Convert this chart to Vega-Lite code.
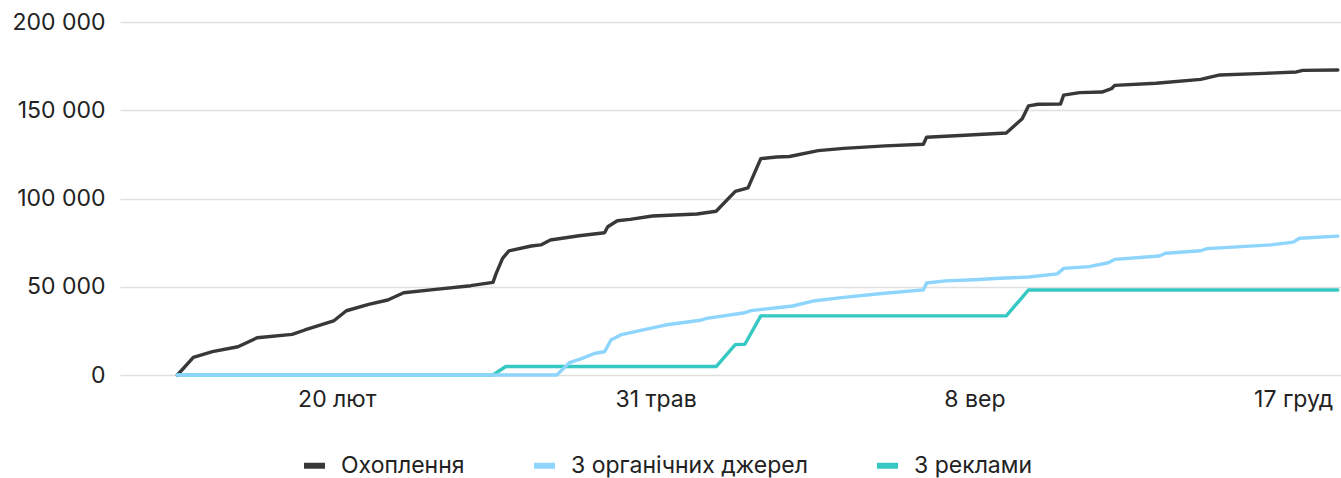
{
  "$schema": "https://vega.github.io/schema/vega-lite/v6.json",
  "width": 1221,
  "height": 353,
  "autosize": {"type": "none"},
  "padding": {"left": 120, "top": 22, "right": 0, "bottom": 103},
  "background": "white",
  "config": {
    "view": {"stroke": null},
    "font": "Inter",
    "axis": {"labelFont": "Inter", "labelFontSize": 23, "labelColor": "#222222", "domain": false, "ticks": false, "title": null}
  },
  "data": {
    "values": [
      {"d": "2023-01-01", "s": "Охоплення", "v": 0},
      {"d": "2023-01-06", "s": "Охоплення", "v": 10000},
      {"d": "2023-01-12", "s": "Охоплення", "v": 13200},
      {"d": "2023-01-20", "s": "Охоплення", "v": 16000},
      {"d": "2023-01-26", "s": "Охоплення", "v": 21100},
      {"d": "2023-02-06", "s": "Охоплення", "v": 23000},
      {"d": "2023-02-10", "s": "Охоплення", "v": 25500},
      {"d": "2023-02-19", "s": "Охоплення", "v": 30600},
      {"d": "2023-02-23", "s": "Охоплення", "v": 36400},
      {"d": "2023-03-02", "s": "Охоплення", "v": 40000},
      {"d": "2023-03-08", "s": "Охоплення", "v": 42500},
      {"d": "2023-03-13", "s": "Охоплення", "v": 46600},
      {"d": "2023-03-23", "s": "Охоплення", "v": 48500},
      {"d": "2023-04-03", "s": "Охоплення", "v": 50600},
      {"d": "2023-04-10", "s": "Охоплення", "v": 52500},
      {"d": "2023-04-11", "s": "Охоплення", "v": 57600},
      {"d": "2023-04-13", "s": "Охоплення", "v": 66100},
      {"d": "2023-04-15", "s": "Охоплення", "v": 70300},
      {"d": "2023-04-22", "s": "Охоплення", "v": 73100},
      {"d": "2023-04-25", "s": "Охоплення", "v": 73700},
      {"d": "2023-04-28", "s": "Охоплення", "v": 76500},
      {"d": "2023-05-07", "s": "Охоплення", "v": 78900},
      {"d": "2023-05-15", "s": "Охоплення", "v": 80600},
      {"d": "2023-05-16", "s": "Охоплення", "v": 84000},
      {"d": "2023-05-19", "s": "Охоплення", "v": 87400},
      {"d": "2023-05-23", "s": "Охоплення", "v": 88200},
      {"d": "2023-05-30", "s": "Охоплення", "v": 90100},
      {"d": "2023-06-13", "s": "Охоплення", "v": 91200},
      {"d": "2023-06-19", "s": "Охоплення", "v": 92800},
      {"d": "2023-06-25", "s": "Охоплення", "v": 104000},
      {"d": "2023-06-29", "s": "Охоплення", "v": 106000},
      {"d": "2023-07-03", "s": "Охоплення", "v": 122600},
      {"d": "2023-07-08", "s": "Охоплення", "v": 123500},
      {"d": "2023-07-12", "s": "Охоплення", "v": 123800},
      {"d": "2023-07-21", "s": "Охоплення", "v": 127100},
      {"d": "2023-07-29", "s": "Охоплення", "v": 128400},
      {"d": "2023-08-11", "s": "Охоплення", "v": 129800},
      {"d": "2023-08-23", "s": "Охоплення", "v": 130700},
      {"d": "2023-08-24", "s": "Охоплення", "v": 134700},
      {"d": "2023-09-05", "s": "Охоплення", "v": 135800},
      {"d": "2023-09-18", "s": "Охоплення", "v": 137100},
      {"d": "2023-09-23", "s": "Охоплення", "v": 145200},
      {"d": "2023-09-25", "s": "Охоплення", "v": 152500},
      {"d": "2023-09-28", "s": "Охоплення", "v": 153400},
      {"d": "2023-10-05", "s": "Охоплення", "v": 153500},
      {"d": "2023-10-06", "s": "Охоплення", "v": 158600},
      {"d": "2023-10-11", "s": "Охоплення", "v": 160000},
      {"d": "2023-10-18", "s": "Охоплення", "v": 160300},
      {"d": "2023-10-21", "s": "Охоплення", "v": 162200},
      {"d": "2023-10-22", "s": "Охоплення", "v": 164100},
      {"d": "2023-11-04", "s": "Охоплення", "v": 165300},
      {"d": "2023-11-18", "s": "Охоплення", "v": 167500},
      {"d": "2023-11-24", "s": "Охоплення", "v": 170000},
      {"d": "2023-12-08", "s": "Охоплення", "v": 170900},
      {"d": "2023-12-18", "s": "Охоплення", "v": 171700},
      {"d": "2023-12-20", "s": "Охоплення", "v": 172600},
      {"d": "2023-12-31", "s": "Охоплення", "v": 172800},

      {"d": "2023-01-01", "s": "З реклами", "v": 0},
      {"d": "2023-04-10", "s": "З реклами", "v": 0},
      {"d": "2023-04-14", "s": "З реклами", "v": 4800},
      {"d": "2023-06-19", "s": "З реклами", "v": 4800},
      {"d": "2023-06-25", "s": "З реклами", "v": 17200},
      {"d": "2023-06-28", "s": "З реклами", "v": 17400},
      {"d": "2023-07-03", "s": "З реклами", "v": 33500},
      {"d": "2023-09-18", "s": "З реклами", "v": 33500},
      {"d": "2023-09-25", "s": "З реклами", "v": 48200},
      {"d": "2023-12-31", "s": "З реклами", "v": 48200},

      {"d": "2023-01-01", "s": "З органічних джерел", "v": 0},
      {"d": "2023-04-30", "s": "З органічних джерел", "v": 0},
      {"d": "2023-05-04", "s": "З органічних джерел", "v": 7000},
      {"d": "2023-05-08", "s": "З органічних джерел", "v": 9400},
      {"d": "2023-05-12", "s": "З органічних джерел", "v": 12300},
      {"d": "2023-05-15", "s": "З органічних джерел", "v": 13200},
      {"d": "2023-05-17", "s": "З органічних джерел", "v": 19800},
      {"d": "2023-05-20", "s": "З органічних джерел", "v": 22700},
      {"d": "2023-05-26", "s": "З органічних джерел", "v": 25100},
      {"d": "2023-06-03", "s": "З органічних джерел", "v": 28300},
      {"d": "2023-06-14", "s": "З органічних джерел", "v": 31000},
      {"d": "2023-06-16", "s": "З органічних джерел", "v": 32100},
      {"d": "2023-06-28", "s": "З органічних джерел", "v": 35300},
      {"d": "2023-06-30", "s": "З органічних джерел", "v": 36500},
      {"d": "2023-07-08", "s": "З органічних джерел", "v": 38100},
      {"d": "2023-07-13", "s": "З органічних джерел", "v": 39100},
      {"d": "2023-07-20", "s": "З органічних джерел", "v": 42100},
      {"d": "2023-07-29", "s": "З органічних джерел", "v": 44000},
      {"d": "2023-08-10", "s": "З органічних джерел", "v": 46200},
      {"d": "2023-08-23", "s": "З органічних джерел", "v": 48200},
      {"d": "2023-08-24", "s": "З органічних джерел", "v": 52100},
      {"d": "2023-08-30", "s": "З органічних джерел", "v": 53300},
      {"d": "2023-09-08", "s": "З органічних джерел", "v": 54000},
      {"d": "2023-09-16", "s": "З органічних джерел", "v": 54800},
      {"d": "2023-09-25", "s": "З органічних джерел", "v": 55500},
      {"d": "2023-10-04", "s": "З органічних джерел", "v": 57300},
      {"d": "2023-10-06", "s": "З органічних джерел", "v": 60400},
      {"d": "2023-10-14", "s": "З органічних джерел", "v": 61400},
      {"d": "2023-10-20", "s": "З органічних джерел", "v": 63600},
      {"d": "2023-10-22", "s": "З органічних джерел", "v": 65500},
      {"d": "2023-11-05", "s": "З органічних джерел", "v": 67400},
      {"d": "2023-11-07", "s": "З органічних джерел", "v": 69000},
      {"d": "2023-11-18", "s": "З органічних джерел", "v": 70400},
      {"d": "2023-11-20", "s": "З органічних джерел", "v": 71600},
      {"d": "2023-12-10", "s": "З органічних джерел", "v": 73700},
      {"d": "2023-12-17", "s": "З органічних джерел", "v": 75300},
      {"d": "2023-12-19", "s": "З органічних джерел", "v": 77500},
      {"d": "2023-12-31", "s": "З органічних джерел", "v": 78700}
    ]
  },
  "mark": {"type": "line", "strokeWidth": 3.4, "strokeJoin": "round", "strokeCap": "round"},
  "encoding": {
    "x": {
      "field": "d",
      "type": "temporal",
      "scale": {"domain": [{"year": 2022, "month": 12, "date": 14}, {"year": 2024, "month": 1, "date": 1}]},
      "axis": {
        "grid": false,
        "labelPadding": 13,
        "values": [
          {"year": 2023, "month": 2, "date": 20},
          {"year": 2023, "month": 5, "date": 31},
          {"year": 2023, "month": 9, "date": 8},
          {"year": 2023, "month": 12, "date": 17}
        ],
        "labelExpr": "date(datum.value) + ' ' + ['січ','лют','бер','квіт','трав','черв','лип','серп','вер','жовт','лист','груд'][month(datum.value)]"
      }
    },
    "y": {
      "field": "v",
      "type": "quantitative",
      "scale": {"domain": [0, 200000], "nice": false},
      "axis": {
        "values": [0, 50000, 100000, 150000, 200000],
        "grid": true,
        "gridColor": "#e0e0e0",
        "gridWidth": 1.5,
        "labelPadding": 15,
        "labelExpr": "replace(format(datum.value, ','), ',', ' ')"
      }
    },
    "color": {
      "field": "s",
      "type": "nominal",
      "scale": {
        "domain": ["Охоплення", "З органічних джерел", "З реклами"],
        "range": ["#383838", "#8dd5fd", "#36c9c3"]
      },
      "legend": {
        "orient": "none",
        "legendX": 181,
        "legendY": 430,
        "direction": "horizontal",
        "columns": 3,
        "title": null,
        "symbolType": "stroke",
        "symbolSize": 441,
        "symbolStrokeWidth": 6,
        "labelFont": "Inter",
        "labelFontSize": 23,
        "labelLimit": 500,
        "labelColor": "#222222",
        "labelOffset": 13,
        "columnPadding": 57
      }
    }
  }
}
